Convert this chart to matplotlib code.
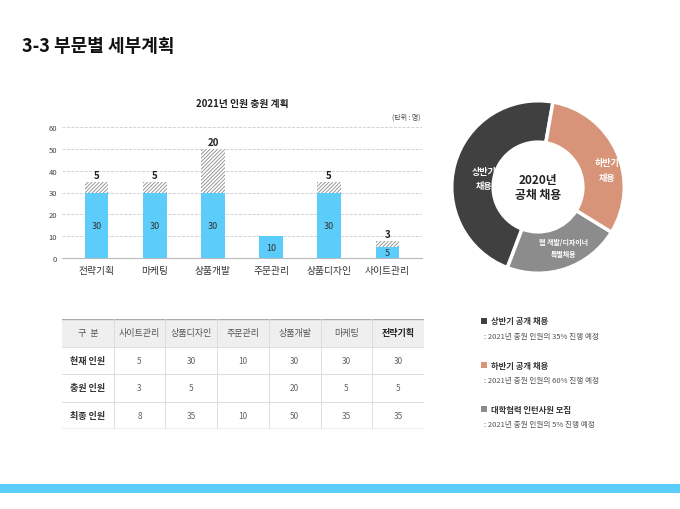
import matplotlib
matplotlib.use("Agg")
import matplotlib.pyplot as plt
from matplotlib.patches import Rectangle

plt.rcParams['font.family'] = ['Noto Sans CJK KR', 'DejaVu Sans']
plt.rcParams['hatch.color'] = '#777777'
plt.rcParams['hatch.linewidth'] = 0.6

categories = ['전략기획', '마케팅', '상품개발', '주문관리', '상품디자인', '사이트관리']
current = [30, 30, 30, 10, 30, 5]
added = [5, 5, 20, 0, 5, 3]
yticks = [0, 10, 20, 30, 40, 50, 60]

donut_labels = ['상반기\n채용', '웹 개발/디자이너\n특별채용', '하반기\n채용']
donut_values = [47, 22, 31]
donut_colors = ['#404040', '#8c8c8c', '#d79479']

table_cols = ['구  분', '사이트관리', '상품디자인', '주문관리', '상품개발', '마케팅', '전략기획']
table_rows = [['현재 인원', '5', '30', '10', '30', '30', '30'],
              ['충원 인원', '3', '5', '', '20', '5', '5'],
              ['최종 인원', '8', '35', '10', '50', '35', '35']]

legend_items = [('상반기 공개 채용', ': 2021년 충원 인원의 35% 진행 예정', '#404040'),
                ('하반기 공개 채용', ': 2021년 충원 인원의 60% 진행 예정', '#d79479'),
                ('대학협력 인턴사원 모집', ': 2021년 충원 인원의 5% 진행 예정', '#8c8c8c')]

W, H = 680, 510
fig = plt.figure(figsize=(6.8, 5.1), dpi=100)
def fx(x): return x / W
def fy(y): return 1 - y / H

fig.text(fx(22), fy(47), '3-3 부문별 세부계획', fontsize=13, fontweight='bold', va='center', color='#111111')
fig.add_artist(Rectangle((0, fy(494)), 1, 9 / H, transform=fig.transFigure, color='#5bcdfa', lw=0))

# bar chart
ax = fig.add_axes([fx(62), fy(259), fx(422 - 62), (259 - 128) / H])
x = range(len(categories))
ax.bar(x, current, width=0.4, color='#5ccdfb', zorder=3)
ax.bar(x, added, bottom=current, width=0.4, color='white', edgecolor='#888888',
       hatch='/////////', lw=0, zorder=3)
for i in x:
    ax.text(i, current[i] / 2, str(current[i]), ha='center', va='center', fontsize=6.5, color='#333333', zorder=4)
    if added[i]:
        ax.text(i, current[i] + added[i] + 0.8, str(added[i]), ha='center', va='bottom',
                fontsize=7, fontweight='bold', color='#222222', zorder=4)
ax.set_ylim(0, 60)
ax.set_xlim(-0.6, len(categories) - 0.4)
ax.set_yticks(yticks)
ax.set_xticks(list(x))
ax.set_xticklabels(categories, fontsize=7, color='#333333')
ax.tick_params(axis='y', labelsize=5.5, length=0, colors='#444444')
ax.tick_params(axis='x', length=0, pad=5)
ax.grid(axis='y', ls='--', color='#cccccc', lw=0.6, zorder=0)
for s in ['top', 'right', 'left']:
    ax.spines[s].set_visible(False)
ax.spines['bottom'].set_color('#bbbbbb')
fig.text(fx(242), fy(104), '2021년 인원 충원 계획', fontsize=7, fontweight='bold', ha='center', va='center', color='#222222')
fig.text(fx(420), fy(118), '(단위 : 명)', fontsize=5, ha='right', va='center', color='#444444')

# donut
r = 88
axd = fig.add_axes([fx(538 - r), fy(188 + r), fx(2 * r), 2 * r / H])
wedges, _ = axd.pie(donut_values, colors=donut_colors, startangle=80, counterclock=True,
                    wedgeprops=dict(width=0.48, edgecolor='white', linewidth=2.5))
label_pos = [(-0.62, 0.1), (0.3, -0.7), (0.8, 0.2)]
for (px, py), lab in zip(label_pos, donut_labels):
    axd.text(px, py, lab, ha='center', va='center', fontsize=5 if '웹' in lab else 6.5,
             color='white', fontweight='bold', linespacing=1.8)
axd.text(0, 0, '2020년\n공채 채용', ha='center', va='center', fontsize=8.5, fontweight='bold', color='#222222')
axd.set_xlim(-1.02, 1.02); axd.set_ylim(-1.02, 1.02)
axd.set_aspect('equal')

# table
axt = fig.add_axes([fx(62), fy(430), fx(424 - 62), (430 - 320) / H])
axt.set_xlim(0, 7); axt.set_ylim(4, 0); axt.axis('off')
axt.add_patch(Rectangle((0, 0), 7, 1, color='#efefef', lw=0))
for j, c in enumerate(table_cols):
    bold = j == 6
    axt.text(j + 0.5, 0.5, c, ha='center', va='center', fontsize=6.5,
             color='#222222' if bold else '#555555', fontweight='bold' if bold else 'normal')
for i, row in enumerate(table_rows):
    for j, v in enumerate(row):
        axt.text(j + 0.5, i + 1.5, v, ha='center', va='center', fontsize=6.5 if j == 0 else 6,
                 color='#333333' if j == 0 else '#666666', fontweight='bold' if j == 0 else 'normal')
for yy in [0, 1, 2, 3, 4]:
    axt.plot([0, 7], [yy, yy], color='#aaaaaa' if yy in (0, 4) else '#dddddd', lw=1 if yy in (0, 4) else 0.7)
for xx in range(1, 7):
    axt.plot([xx, xx], [0, 4], color='#dddddd', lw=0.7)

# legend
for k, (t, sub, c) in enumerate(legend_items):
    y0 = 322 + k * 44
    fig.add_artist(Rectangle((fx(481), fy(y0 + 3)), 6 / W, 6 / H, transform=fig.transFigure, color=c, lw=0))
    fig.text(fx(491), fy(y0), t, fontsize=6, va='center', color='#333333', fontweight='bold')
    fig.text(fx(484), fy(y0 + 15), sub, fontsize=5.5, va='center', color='#555555')

fig.savefig('out.png', dpi=100)
